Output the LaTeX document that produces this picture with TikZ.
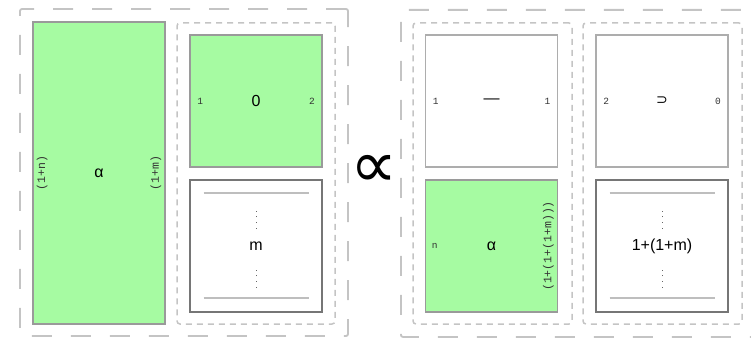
\documentclass[tikz,border=0pt]{standalone}
\usepackage{fontspec}
\setmainfont{Liberation Sans}
\newfontfamily\monofont{Liberation Mono}
\newfontfamily\symfont{DejaVu Sans}
\begin{document}
\definecolor{boxgreen}{HTML}{A6FBA2}
\definecolor{greenedge}{HTML}{9A9A9A}
\definecolor{lightedge}{HTML}{ADADAD}
\definecolor{darkedge}{HTML}{767676}
\definecolor{rulegray}{HTML}{BEBEBE}
\definecolor{dashgray}{HTML}{C4C4C4}
\begin{tikzpicture}[x=1pt,y=-1pt,
  outerbox/.style={draw=dashgray, line width=1.8pt, dash pattern=on 20pt off 19pt, rounded corners=2pt},
  groupbox/.style={draw=dashgray, line width=1.5pt, dash pattern=on 6pt off 5pt, rounded corners=3pt},
  cell/.style={minimum width=132pt, minimum height=132pt, inner sep=0pt, line width=1.8pt},
  greencell/.style={cell, fill=boxgreen, draw=greenedge},
  lightcell/.style={cell, fill=white, draw=lightedge},
  darkcell/.style={cell, fill=white, draw=darkedge},
  mainlabel/.style={font=\fontsize{16}{18}\selectfont, inner sep=0pt},
  portlabel/.style={font=\monofont\fontsize{9.5}{11}\selectfont, inner sep=0pt, text=black!80},
  sidelabel/.style={portlabel, font=\monofont\fontsize{11.5}{13}\selectfont, rotate=90},
  rulestroke/.style={draw=rulegray, line width=2pt},
  dotcol/.style={draw=black!60, line width=0.9pt, dash pattern=on 0.9pt off 4.8pt}]
\clip (0,0) rectangle (751,337);
\useasboundingbox (0,0) rectangle (751,337);

% outer groupings
\node[outerbox, minimum width=328pt, minimum height=327pt] (lhs) at (184,172.5) {};
\node[outerbox, minimum width=420pt, minimum height=327pt, anchor=north west] (rhs) at (400,9) {};

% left-hand side
\node[greencell, minimum height=302pt] (alphaL) at (99,173) {};
\node[mainlabel] (alphaLt) at (alphaL.center) {α};
\node[sidelabel] (nL) at ([xshift=10pt]alphaL.west) {(1+n)};
\node[sidelabel] (mL) at ([xshift=-10pt]alphaL.east) {(1+m)};

\node[groupbox, minimum width=158pt, minimum height=301pt] (grpA) at (256,173.5) {};
\node[greencell] (zero) at (256,101) {};
\node[mainlabel] (zerot) at (zero.center) {0};
\node[portlabel] (zeroin) at ([xshift=11pt]zero.west) {1};
\node[portlabel] (zeroout) at ([xshift=-11pt]zero.east) {2};

\node[darkcell] (mbox) at (256,246) {};
\node[mainlabel] (mboxt) at (mbox.center) {m};
\draw[rulestroke] ([shift={(-52.5,-53)}]mbox.center) -- ([shift={(52.5,-53)}]mbox.center);
\draw[rulestroke] ([shift={(-52.5,52)}]mbox.center) -- ([shift={(52.5,52)}]mbox.center);
\draw[dotcol] ([yshift=-41.5pt]mbox.center) -- ([yshift=-19pt]mbox.center);
\draw[dotcol] ([yshift=17.5pt]mbox.center) -- ([yshift=40pt]mbox.center);

% proportionality sign
\node[font=\symfont\fontsize{66}{70}\selectfont, inner sep=0pt] (prop) at (374,171) {∝};

% right-hand side, first column
\node[groupbox, minimum width=159pt, minimum height=301pt] (grpB) at (492.5,173.5) {};
\node[lightcell] (bar) at (491.5,101) {};
\node[mainlabel] (bart) at (bar.center) {—};
\node[portlabel] (barin) at ([xshift=11pt]bar.west) {1};
\node[portlabel] (barout) at ([xshift=-11pt]bar.east) {1};

\node[greencell] (alphaR) at (491.5,246) {};
\node[mainlabel] (alphaRt) at (alphaR.center) {α};
\node[portlabel] (nR) at ([xshift=10pt]alphaR.west) {n};
\node[sidelabel] (mR) at ([xshift=-10pt]alphaR.east) {(1+(1+(1+m)))};

% right-hand side, second column
\node[groupbox, minimum width=159pt, minimum height=301pt] (grpC) at (662.5,173.5) {};
\node[lightcell] (cup) at (662,101) {};
\node[mainlabel, font=\symfont\fontsize{14}{16}\selectfont] (cupt) at (cup.center) {⊃};
\node[portlabel] (cupin) at ([xshift=11pt]cup.west) {2};
\node[portlabel] (cupout) at ([xshift=-11pt]cup.east) {0};

\node[darkcell] (sum) at (662,246) {};
\node[mainlabel] (sumt) at (sum.center) {1+(1+m)};
\draw[rulestroke] ([shift={(-52.5,-53)}]sum.center) -- ([shift={(52.5,-53)}]sum.center);
\draw[rulestroke] ([shift={(-52.5,52)}]sum.center) -- ([shift={(52.5,52)}]sum.center);
\draw[dotcol] ([yshift=-41.5pt]sum.center) -- ([yshift=-19pt]sum.center);
\draw[dotcol] ([yshift=17.5pt]sum.center) -- ([yshift=40pt]sum.center);
\end{tikzpicture}
\end{document}
